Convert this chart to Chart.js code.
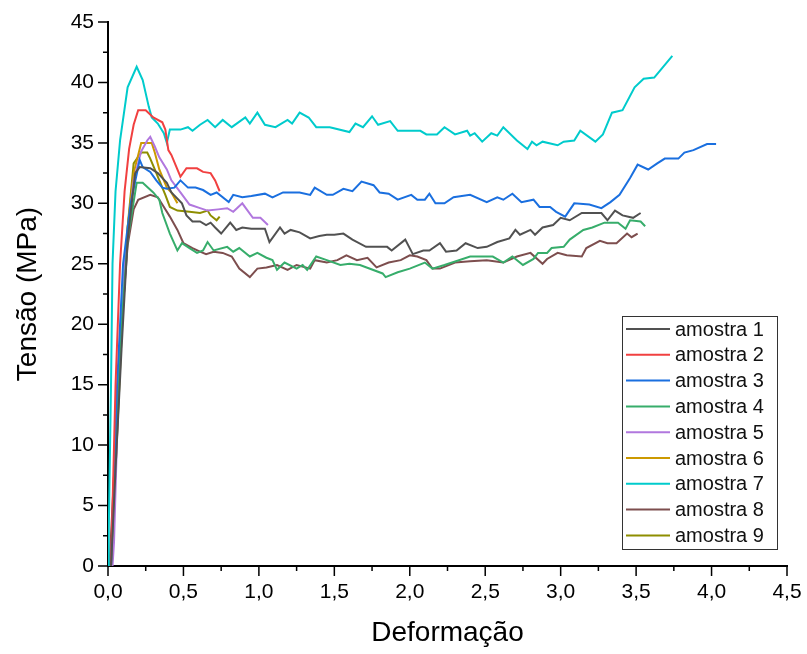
<!DOCTYPE html>
<html>
<head>
<meta charset="utf-8">
<title>Tensão x Deformação</title>
<script src="https://cdn.jsdelivr.net/npm/chart.js@4.4.1/dist/chart.umd.min.js"></script>
<style>
  html, body { margin: 0; padding: 0; background: #fff; }
  #wrap { width: 807px; height: 654px; }
</style>
</head>
<body>
<div id="wrap"><canvas id="grafico"></canvas></div>
<script>
// curvas tensão-deformação das amostras (deformação, tensão em MPa)
const def1 = [0.02,0.05,0.09,0.13,0.18,0.21,0.28,0.33,0.39,0.42,0.49,0.52,0.56,0.61,0.65,0.68,0.71,0.75,0.81,0.85,0.89,0.95,1.04,1.07,1.14,1.17,1.21,1.27,1.34,1.40,1.45,1.50,1.56,1.62,1.71,1.78,1.85,1.88,1.97,2.02,2.09,2.13,2.20,2.24,2.31,2.37,2.45,2.51,2.58,2.66,2.70,2.73,2.80,2.83,2.88,2.95,3.00,3.06,3.14,3.19,3.27,3.31,3.36,3.41,3.48,3.53];
const ten1 = [0,8,18,27,32.5,33.0,32.9,32.5,31.7,30.9,30.0,29.0,28.5,28.5,28.2,28.4,28.0,27.5,28.4,27.8,28.0,27.9,27.9,26.8,28.0,27.5,27.8,27.6,27.1,27.3,27.4,27.4,27.5,27.0,26.4,26.4,26.4,26.1,27.0,25.8,26.1,26.1,26.7,26.0,26.1,26.7,26.3,26.4,26.8,27.1,27.8,27.4,27.8,27.4,28.0,28.2,28.8,28.6,29.2,29.2,29.2,28.6,29.4,29.0,28.8,29.2];

const def2 = [0.02,0.05,0.08,0.11,0.14,0.17,0.20,0.25,0.30,0.36,0.38,0.40,0.42,0.48,0.52,0.59,0.63,0.68,0.71,0.74];
const ten2 = [0,15,25,31,34.5,36.5,37.7,37.7,37.1,36.7,36.1,34.4,34.0,32.2,32.9,32.9,32.6,32.5,31.9,31.0];

const def3 = [0.02,0.06,0.10,0.15,0.21,0.23,0.28,0.32,0.36,0.39,0.44,0.48,0.53,0.58,0.63,0.68,0.72,0.80,0.83,0.89,0.95,1.04,1.09,1.16,1.27,1.34,1.37,1.45,1.49,1.56,1.62,1.68,1.76,1.80,1.86,1.92,2.01,2.05,2.10,2.13,2.17,2.23,2.29,2.40,2.51,2.58,2.62,2.68,2.74,2.82,2.86,2.93,2.97,3.03,3.09,3.19,3.27,3.33,3.39,3.46,3.51,3.58,3.64,3.69,3.78,3.82,3.88,3.97,4.03];
const ten3 = [0,15,25,30,33.6,33.0,32.6,31.9,31.3,31.2,31.3,31.9,31.3,31.3,31.1,30.7,30.9,30.1,30.7,30.5,30.6,30.8,30.5,30.9,30.9,30.7,31.3,30.7,30.7,31.2,31.0,31.8,31.5,30.9,30.8,30.3,30.7,30.3,30.3,30.8,30.0,30.0,30.5,30.7,30.1,30.5,30.3,30.8,30.1,30.3,29.7,29.7,29.3,28.9,30.0,29.9,29.6,30.1,30.7,32.1,33.2,32.8,33.3,33.7,33.7,34.2,34.4,34.9,34.9];

const def4 = [0.02,0.05,0.09,0.13,0.19,0.23,0.30,0.34,0.36,0.41,0.46,0.49,0.54,0.59,0.63,0.66,0.70,0.79,0.83,0.87,0.94,0.99,1.05,1.09,1.12,1.17,1.25,1.29,1.32,1.38,1.45,1.54,1.60,1.67,1.82,1.84,1.92,2.00,2.10,2.15,2.23,2.40,2.55,2.62,2.68,2.75,2.82,2.85,2.91,2.94,3.02,3.06,3.15,3.21,3.29,3.38,3.43,3.46,3.53,3.56];
const ten4 = [0,10,20,27,31.7,31.7,30.9,30.3,29.2,27.5,26.1,26.7,26.3,25.9,26.1,26.8,26.1,26.4,26.0,26.3,25.6,25.9,25.5,25.3,24.5,25.1,24.6,24.9,24.5,25.6,25.3,24.9,25.0,24.9,24.2,23.9,24.3,24.6,25.1,24.6,24.9,25.6,25.6,25.1,25.6,24.9,25.4,25.9,25.9,26.3,26.4,27.0,27.8,28.0,28.4,28.4,27.9,28.6,28.5,28.1];

const def5 = [0.03,0.04,0.07,0.11,0.17,0.22,0.26,0.28,0.31,0.34,0.39,0.42,0.48,0.54,0.61,0.66,0.73,0.79,0.83,0.89,0.96,1.01,1.06];
const ten5 = [0,2,15,25,31.9,34.3,35.2,35.5,34.7,33.8,32.8,31.9,30.9,29.9,29.6,29.4,29.5,29.6,29.3,30.0,28.8,28.8,28.2];

const def6 = [0.02,0.05,0.09,0.13,0.17,0.22,0.29,0.31,0.34,0.39,0.42,0.46];
const ten6 = [0,8,20,28,32.5,35.0,35.0,34.2,32.8,31.3,30.9,30.0];

const def7 = [0,0.005,0.02,0.03,0.05,0.08,0.13,0.19,0.23,0.27,0.29,0.33,0.37,0.39,0.41,0.48,0.53,0.56,0.61,0.66,0.71,0.76,0.82,0.91,0.94,0.99,1.04,1.11,1.19,1.22,1.27,1.33,1.38,1.47,1.60,1.64,1.69,1.75,1.79,1.87,1.92,2.07,2.11,2.18,2.23,2.30,2.38,2.40,2.43,2.48,2.54,2.58,2.62,2.71,2.78,2.81,2.84,2.88,2.98,3.02,3.09,3.13,3.23,3.28,3.34,3.41,3.49,3.55,3.62,3.66,3.74];
const ten7 = [0,3,15,25,31,35.2,39.6,41.3,40.2,38.0,37.1,36.6,35.8,35.0,36.1,36.1,36.3,36.0,36.5,36.9,36.3,36.9,36.3,37.1,36.6,37.5,36.5,36.3,36.9,36.6,37.5,37.1,36.3,36.3,35.9,36.6,36.3,37.2,36.5,36.8,36.0,36.0,35.7,35.7,36.3,35.7,36.0,35.6,35.8,35.1,35.8,35.6,36.3,35.2,34.5,35.1,34.8,35.1,34.8,35.1,35.2,36.0,35.1,35.7,37.5,37.7,39.6,40.3,40.4,41.0,42.2];

const def8 = [0.01,0.05,0.09,0.13,0.17,0.20,0.28,0.33,0.36,0.41,0.46,0.50,0.56,0.61,0.65,0.70,0.76,0.82,0.87,0.94,0.99,1.05,1.12,1.19,1.25,1.34,1.37,1.45,1.52,1.58,1.65,1.72,1.78,1.86,1.94,2.00,2.05,2.11,2.15,2.20,2.30,2.40,2.51,2.62,2.71,2.80,2.88,2.91,2.98,3.04,3.14,3.17,3.26,3.31,3.37,3.44,3.47,3.51];
const ten8 = [0,10,20,26.5,29.5,30.3,30.7,30.5,29.9,28.9,27.8,26.7,26.3,26.0,25.8,26.0,25.9,25.6,24.6,23.9,24.6,24.7,24.9,24.5,24.9,24.6,25.3,25.1,25.3,25.7,25.3,25.5,24.7,25.1,25.3,25.7,25.6,25.3,24.6,24.6,25.1,25.2,25.3,25.1,25.6,25.9,25.0,25.4,25.9,25.7,25.6,26.3,26.9,26.7,26.7,27.5,27.2,27.5];

const def9 = [0.02,0.05,0.09,0.13,0.17,0.22,0.26,0.28,0.31,0.36,0.38,0.41,0.46,0.54,0.61,0.66,0.68,0.72,0.74];
const ten9 = [0,8,19,28,33.3,34.2,34.2,33.7,32.8,31.3,30.7,29.7,29.4,29.3,29.2,29.4,29.0,28.6,28.9];

const nomes = ['amostra 1','amostra 2','amostra 3','amostra 4','amostra 5','amostra 6','amostra 7','amostra 8','amostra 9'];
const cores = ['#515151','#F14040','#1A6FDF','#37AD6B','#B177DE','#CC9900','#00CBCC','#7D4E4E','#8E8E00'];

const xTicks = [0, 0.5, 1, 1.5, 2, 2.5, 3, 3.5, 4, 4.5];
const yTicks = [0, 5, 10, 15, 20, 25, 30, 35, 40, 45];

const series = [[def1,ten1],[def2,ten2],[def3,ten3],[def4,ten4],[def5,ten5],[def6,ten6],[def7,ten7],[def8,ten8],[def9,ten9]];

const fonte = "'Liberation Sans', Arial, sans-serif";

// ticks maiores e menores, para fora dos eixos
const marcas = {
  id: 'marcas',
  afterDraw(chart) {
    const ctx = chart.ctx;
    const xs = chart.scales.x, ys = chart.scales.y;
    const a = chart.chartArea;
    ctx.save();
    ctx.strokeStyle = '#000';
    ctx.lineWidth = 1.5;
    ctx.beginPath();
    for (let i = 0; i < xTicks.length; i++) {
      const v = xTicks[i];
      let p = xs.getPixelForValue(v);
      ctx.moveTo(p, a.bottom); ctx.lineTo(p, a.bottom + 10);
      if (i < xTicks.length - 1) {
        p = xs.getPixelForValue(v + 0.25);
        ctx.moveTo(p, a.bottom); ctx.lineTo(p, a.bottom + 5);
      }
    }
    for (let i = 0; i < yTicks.length; i++) {
      const v = yTicks[i];
      let p = ys.getPixelForValue(v);
      ctx.moveTo(a.left, p); ctx.lineTo(a.left - 10, p);
      if (i < yTicks.length - 1) {
        p = ys.getPixelForValue(v + 2.5);
        ctx.moveTo(a.left, p); ctx.lineTo(a.left - 5, p);
      }
    }
    ctx.stroke();
    ctx.restore();
  }
};

// legenda em caixa no canto inferior direito
const legenda = {
  id: 'legenda',
  afterDraw(chart) {
    const ctx = chart.ctx;
    const a = chart.chartArea;
    const w = 155, h = 233;
    const x0 = a.right - 165, y0 = a.bottom - 17 - h;
    ctx.save();
    ctx.fillStyle = '#fff';
    ctx.fillRect(x0, y0, w, h);
    ctx.strokeStyle = '#333';
    ctx.lineWidth = 1;
    ctx.strokeRect(x0 + 0.5, y0 + 0.5, w, h);
    ctx.font = '20px ' + fonte;
    ctx.textBaseline = 'middle';
    chart.data.datasets.forEach((ds, i) => {
      const y = y0 + 13 + i * 25.8;
      ctx.strokeStyle = ds.borderColor;
      ctx.lineWidth = 2;
      ctx.beginPath();
      ctx.moveTo(x0 + 4, y); ctx.lineTo(x0 + 48, y);
      ctx.stroke();
      ctx.fillStyle = '#111';
      ctx.fillText(ds.label, x0 + 53, y + 1);
    });
    ctx.restore();
  }
};

const datasets = series.map((s, i) => ({
  label: nomes[i],
  data: s[0].map((x, k) => ({ x: x, y: s[1][k] })),
  borderColor: cores[i],
  backgroundColor: cores[i],
  borderWidth: 2,
  pointRadius: 0,
  tension: 0,
  fill: false
}));

new Chart(document.getElementById('grafico'), {
  type: 'line',
  data: { datasets: datasets },
  options: {
    responsive: true,
    maintainAspectRatio: false,
    animation: false,
    layout: { padding: { top: 22, right: 20, left: 0, bottom: 0 } },
    plugins: { legend: { display: false }, tooltip: { enabled: false } },
    scales: {
      x: {
        type: 'linear',
        min: 0, max: 4.5,
        afterFit: s => { s.height = 88; s.paddingLeft = 0; s.paddingRight = 0; },
        afterBuildTicks: s => { s.ticks = xTicks.map(v => ({ value: v })); },
        ticks: {
          color: '#000',
          padding: 14,
          maxRotation: 0,
          font: { family: fonte, size: 21 },
          callback: v => v.toFixed(1).replace('.', ',')
        },
        grid: { drawOnChartArea: false, drawTicks: false },
        border: { color: '#000', width: 2 },
        title: {
          display: true, text: 'Deformação', color: '#000',
          font: { family: fonte, size: 28 },
          padding: { top: 0, bottom: 4 }
        }
      },
      y: {
        min: 0, max: 45,
        afterFit: s => { s.width = 108; s.paddingTop = 0; s.paddingBottom = 0; },
        afterBuildTicks: s => { s.ticks = yTicks.map(v => ({ value: v })); },
        ticks: {
          color: '#000',
          padding: 14,
          font: { family: fonte, size: 21 }
        },
        grid: { drawOnChartArea: false, drawTicks: false },
        border: { color: '#000', width: 2 },
        title: {
          display: true, text: 'Tensão (MPa)', color: '#000',
          font: { family: fonte, size: 28 },
          padding: { top: 11, bottom: 0 }
        }
      }
    }
  },
  plugins: [marcas, legenda]
});
</script>
</body>
</html>
